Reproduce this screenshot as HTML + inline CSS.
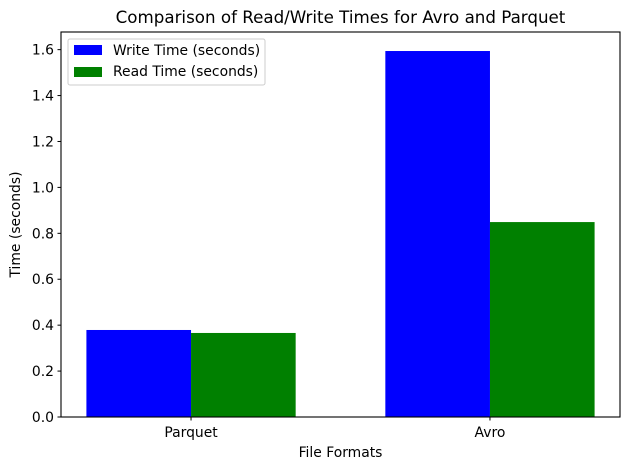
<!DOCTYPE html>
<html><head><meta charset="utf-8"><style>
body{margin:0;background:#fff}
svg text{font-family:"DejaVu Sans","Liberation Sans",sans-serif;fill:#000}
</style></head><body>
<svg id="chart" width="630" height="470" xmlns="http://www.w3.org/2000/svg">
<rect width="630" height="470" fill="#fff"/>
<text x="340.5" y="23" font-size="16.7" text-anchor="middle">Comparison of Read/Write Times for Avro and Parquet</text>
<g id="plot"></g>
<text x="340.5" y="457" font-size="13.9" text-anchor="middle">File Formats</text>
<text x="20" y="224.5" font-size="13.9" text-anchor="middle" transform="rotate(-90 20 224.5)">Time (seconds)</text>
<g>
<rect x="68" y="39" width="197" height="46" fill="#fff" stroke="#ccc" rx="2"/>
<rect x="74" y="45" width="28" height="10" fill="#0000ff"/>
<text x="113" y="55" font-size="13.9">Write Time (seconds)</text>
<rect x="74" y="67" width="28" height="10" fill="#008000"/>
<text x="113" y="76" font-size="13.9">Read Time (seconds)</text>
</g>
</svg>
<script>
const categories = ["Parquet", "Avro"];
const writeTimes = [0.379, 1.594];
const readTimes = [0.366, 0.849];
const yTicks = [0.0, 0.2, 0.4, 0.6, 0.8, 1.0, 1.2, 1.4, 1.6];

const L=61,R=620,T=32,B=417;
const xMin=-0.435,xMax=1.435;
function xs(v){return L+(v-xMin)/(xMax-xMin)*(R-L);}
function ys(v){return B-v*229.6;}
const NS="http://www.w3.org/2000/svg";
const g=document.getElementById('plot');
function el(tag,attrs){const e=document.createElementNS(NS,tag);for(const k in attrs)e.setAttribute(k,attrs[k]);g.appendChild(e);return e;}
const w=0.35;
categories.forEach((c,i)=>{
  const b1=el('rect',{x:xs(i-w),y:ys(writeTimes[i]),width:xs(i)-xs(i-w),height:B-ys(writeTimes[i]),fill:'#0000ff'});
  
  
  const b2=el('rect',{x:xs(i),y:ys(readTimes[i]),width:xs(i+w)-xs(i),height:B-ys(readTimes[i]),fill:'#008000'});
  
  
  const t=el('line',{x1:xs(i),x2:xs(i),y1:B,y2:B+3.5,stroke:'#000','stroke-width':1});
  
  
  const lb=el('text',{x:xs(i),y:B+20,'font-size':13.9,'text-anchor':'middle'});
  lb.textContent=c;
  
  
});
yTicks.forEach(v=>{
  const t=el('line',{x1:L-3.5,x2:L,y1:ys(v),y2:ys(v),stroke:'#000','stroke-width':1});
  
  
  const lb=el('text',{x:L-7,y:ys(v)+5,'font-size':13.9,'text-anchor':'end'});
  lb.textContent=v.toFixed(1);
  
  
});
const fr=el('rect',{x:L,y:T,width:R-L,height:B-T,fill:'none',stroke:'#000','stroke-width':1.1});


</script>
</body></html>
